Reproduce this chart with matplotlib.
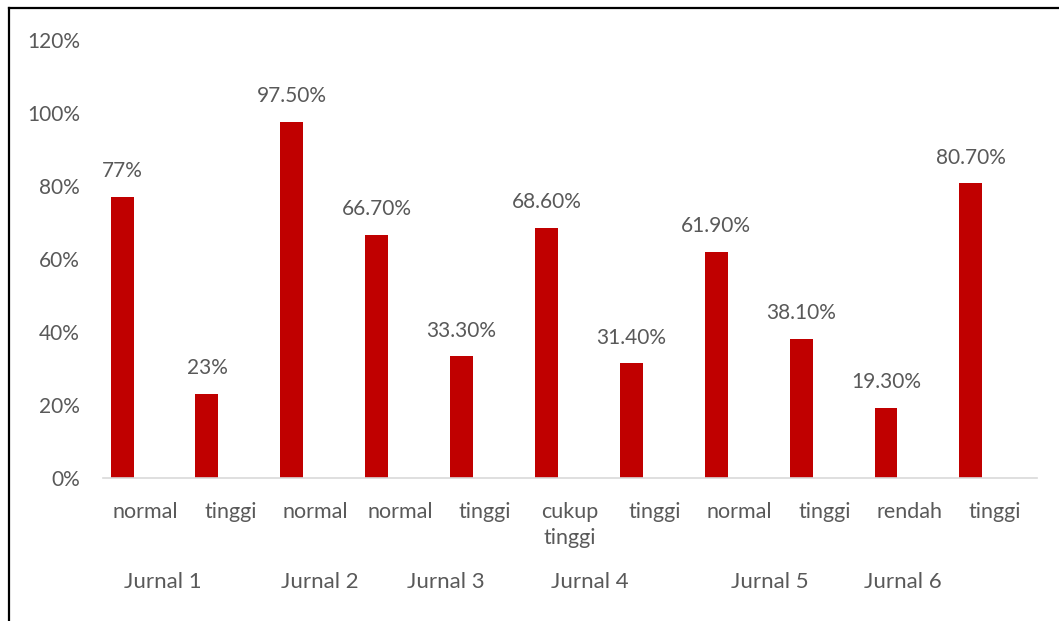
import matplotlib
matplotlib.use("Agg")
import matplotlib.pyplot as plt
from matplotlib.lines import Line2D

plt.rcParams['font.family'] = ['Lato', 'DejaVu Sans']

categories = ["normal", "tinggi", "normal", "normal", "tinggi", "cukup\ntinggi",
              "tinggi", "normal", "tinggi", "rendah", "tinggi"]
values = [77.0, 23.0, 97.5, 66.7, 33.3, 68.6, 31.4, 61.9, 38.1, 19.3, 80.7]
value_labels = ["77%", "23%", "97.50%", "66.70%", "33.30%", "68.60%",
                "31.40%", "61.90%", "38.10%", "19.30%", "80.70%"]
groups = ["Jurnal 1", "Jurnal 2", "Jurnal 3", "Jurnal 4", "Jurnal 5", "Jurnal 6"]
group_x = [0.21, 2.05, 3.54, 5.24, 7.36, 8.92]

text_color = "#595959"
bar_color = "#C00000"

fig = plt.figure(figsize=(10.59, 6.21), dpi=100)
ax = fig.add_axes([0.0973, 0.2303, 0.8817, 0.7053])

# the bar sits in the first slot of a two-slot cluster
x = list(range(len(categories)))
bw = 0.27
bar_x = [i - 0.276 for i in x]
ax.bar(bar_x, [v / 100 for v in values], width=bw, color=bar_color)

for bx, v, lab in zip(bar_x, values, value_labels):
    ax.annotate(lab, (bx, v / 100), xytext=(0, 18.5), textcoords="offset points",
                ha="center", va="center", fontsize=15, color=text_color)

ax.set_xlim(-0.5, len(categories) - 0.5)
ax.set_ylim(0, 1.2)
ax.set_yticks([0, 0.2, 0.4, 0.6, 0.8, 1.0, 1.2])
ax.set_yticklabels(["0%", "20%", "40%", "60%", "80%", "100%", "120%"])
ax.set_xticks(x)
ax.set_xticklabels(categories, linespacing=1.4, va="top")
ax.tick_params(axis="both", length=0, labelcolor=text_color)
ax.tick_params(axis="y", pad=16.5, labelsize=15)
ax.tick_params(axis="x", pad=17, labelsize=15.5)
for s in ["top", "right", "left"]:
    ax.spines[s].set_visible(False)
ax.spines["bottom"].set_color("#D9D9D9")
ax.spines["bottom"].set_linewidth(1.2)

for gx, g in zip(group_x, groups):
    ax.text(gx, -0.285, g, ha="center", va="center", fontsize=16,
            color=text_color, transform=ax.transData, clip_on=False)

# outer frame (left and top edges)
W, H = 1059, 621
fig.add_artist(Line2D([9 / W, 9 / W], [0, 1 - 8 / H], color="black", lw=1.6,
                      transform=fig.transFigure))
fig.add_artist(Line2D([9 / W, 1], [1 - 8 / H, 1 - 8 / H], color="black", lw=1.6,
                      transform=fig.transFigure))

fig.savefig("out.png", dpi=100)
